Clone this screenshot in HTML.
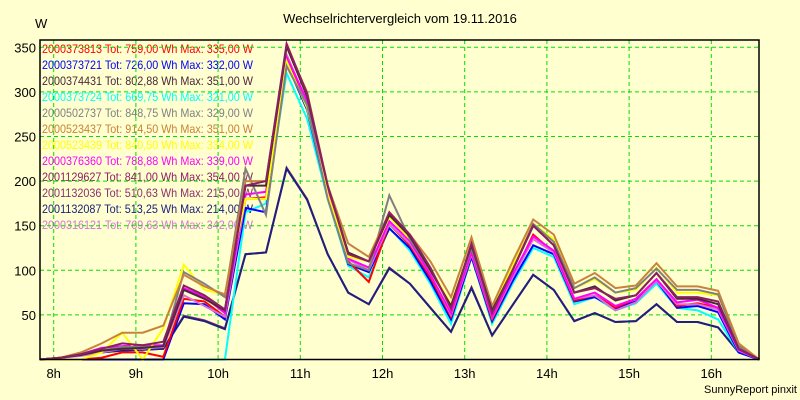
<!DOCTYPE html>
<html><head><meta charset="utf-8"><style>
body{margin:0;background:#FFFFD0;}
svg{display:block;font-family:"Liberation Sans",sans-serif;}
</style></head><body>
<svg id="chart" width="800" height="400" viewBox="0 0 800 400">
<rect x="0" y="0" width="800" height="400" fill="#FFFFD0"/>
<text x="400" y="23" font-size="13" text-anchor="middle" fill="#000">Wechselrichtervergleich vom 19.11.2016</text>
<text x="35" y="28" font-size="13" fill="#000">W</text>
<text x="797" y="393" font-size="11" text-anchor="end" fill="#000">SunnyReport pinxit</text>
<g id="legend"></g>
<g id="grid"></g>
<g id="axes"></g>
<g id="series"></g>
<rect x="40" y="40" width="719" height="319.5" fill="none" stroke="#000" stroke-width="1.5"/>
</svg>
<script>
const startHour = 7 + 50/60;
const stepMinutes = 15;
const yTicks = [50,100,150,200,250,300,350];
const xTicks = [8,9,10,11,12,13,14,15,16];
const seriesNames = ["2000373813","2000373721","2000374431","2000373724","2000502737","2000523437","2000523439","2000376360","2001129627","2001132036","2001132087","2000316121"];
const seriesTotals = ["759,00","726,00","802,88","669,75","848,75","914,50","840,50","788,88","841,00","510,63","513,25","769,63"];
const seriesMax = ["335,00","332,00","351,00","321,00","329,00","351,00","334,00","339,00","354,00","215,00","214,00","342,00"];
const seriesColors = ["#FF0000","#0000FF","#4A2838","#00FFFF","#808080","#C8823C","#FFFF00","#FF00FF","#8B2060","#8B3070","#1E2080","#DA70D6"];
const s0 = [0,0,0,2,8,8,3,68,65,48,180,182,335,288,185,110,87,152,128,92,48,118,45,92,140,120,66,72,58,68,90,60,63,58,10,0];
const s1 = [0,0,0,0,0,0,0,63,62,45,170,165,332,280,182,107,98,147,125,88,45,115,43,88,128,118,65,70,57,65,88,58,60,53,8,0];
const s2 = [0,2,5,10,12,13,15,78,68,55,195,195,351,295,195,120,110,162,138,100,60,128,55,100,150,128,75,82,66,72,97,68,68,62,12,0];
const s3 = [0,0,0,0,0,0,0,0,0,0,165,175,321,270,180,105,92,148,122,85,40,115,40,85,125,115,62,70,55,63,85,58,55,45,8,0];
const s4 = [0,2,6,10,14,14,15,98,85,70,214,162,329,285,180,108,100,184,135,100,60,125,52,100,152,132,80,92,75,80,102,78,78,73,15,0];
const s5 = [0,2,8,18,30,30,38,95,82,73,200,200,351,300,195,130,115,165,140,110,70,137,60,110,157,140,85,97,80,83,108,82,82,77,18,0];
const s6 = [0,0,0,8,30,0,35,106,78,73,180,180,334,282,185,115,110,160,135,102,62,128,55,105,152,135,80,90,75,78,103,75,75,72,16,0];
const s7 = [0,2,6,13,15,16,16,80,70,52,185,188,339,290,188,113,103,155,133,95,52,120,48,95,138,122,68,75,60,68,90,64,67,58,11,0];
const s8 = [0,2,6,12,18,16,20,83,72,56,195,200,354,298,195,118,110,165,140,103,57,130,52,100,150,128,75,80,68,72,97,70,70,65,12,0];
const s9 = [0,2,5,8,10,11,12,49,44,35,118,120,215,180,118,75,62,103,85,58,31,81,27,61,95,78,43,52,42,43,62,42,42,36,8,0];
const s10 = [0,2,5,8,10,11,12,48,43,34,118,120,214,179,118,75,62,102,85,58,31,80,27,61,95,78,43,52,42,43,62,42,42,36,8,0];
const s11 = [0,2,4,8,12,12,14,72,60,48,180,180,342,288,188,112,100,152,130,95,50,118,47,92,135,120,68,72,55,64,88,62,62,56,10,0];
const allSeries = [s0,s1,s2,s3,s4,s5,s6,s7,s8,s9,s10,s11];

const NS = "http://www.w3.org/2000/svg";
function xScale(h){ return 40 + (h - startHour) * 82.2; }
function yScale(v){ return 359.5 - v * 0.892; }
function mk(tag, attrs, parent){ const e=document.createElementNS(NS,tag); for(const k in attrs) e.setAttribute(k,attrs[k]); parent.appendChild(e); return e; }

const legend = document.getElementById('legend');
seriesNames.forEach((n,i)=>{
  const t = mk('text',{x:42,y:53+i*16,'font-size':12,fill:seriesColors[i],textLength:211,lengthAdjust:'spacingAndGlyphs'},legend);
  
  
  t.textContent = n+" Tot: "+seriesTotals[i]+" Wh Max: "+seriesMax[i]+" W";
});

const grid = document.getElementById('grid');
const axes = document.getElementById('axes');
yTicks.forEach(v=>{
  const y=yScale(v);
  const l = mk('line',{x1:40,x2:759,y1:y,y2:y,stroke:'#00E000','stroke-dasharray':'4,3','stroke-width':1},grid);
  
  
  const t = mk('text',{x:36,y:y+5,'font-size':13,'text-anchor':'end',fill:'#000'},axes);
  
  
  t.textContent = v;
});
xTicks.forEach(h=>{
  const x=xScale(h);
  const l = mk('line',{x1:x,x2:x,y1:40,y2:359,stroke:'#00E000','stroke-dasharray':'4,3','stroke-width':1},grid);
  
  
  const t = mk('text',{x:x,y:378,'font-size':13,'text-anchor':'middle',fill:'#000'},axes);
  
  
  t.textContent = h+"h";
});

const ser = document.getElementById('series');
const order = [9,10,3,1,0,11,7,6,4,5,2,8];
order.forEach(i=>{
  const pts = allSeries[i].map((v,j)=>xScale(startHour + j*stepMinutes/60).toFixed(1)+","+yScale(v).toFixed(1)).join(" ");
  const p = mk('polyline',{points:pts,fill:'none',stroke:seriesColors[i],'stroke-width':2,'stroke-linejoin':'miter'},ser);
  
  
});
</script>
</body></html>
